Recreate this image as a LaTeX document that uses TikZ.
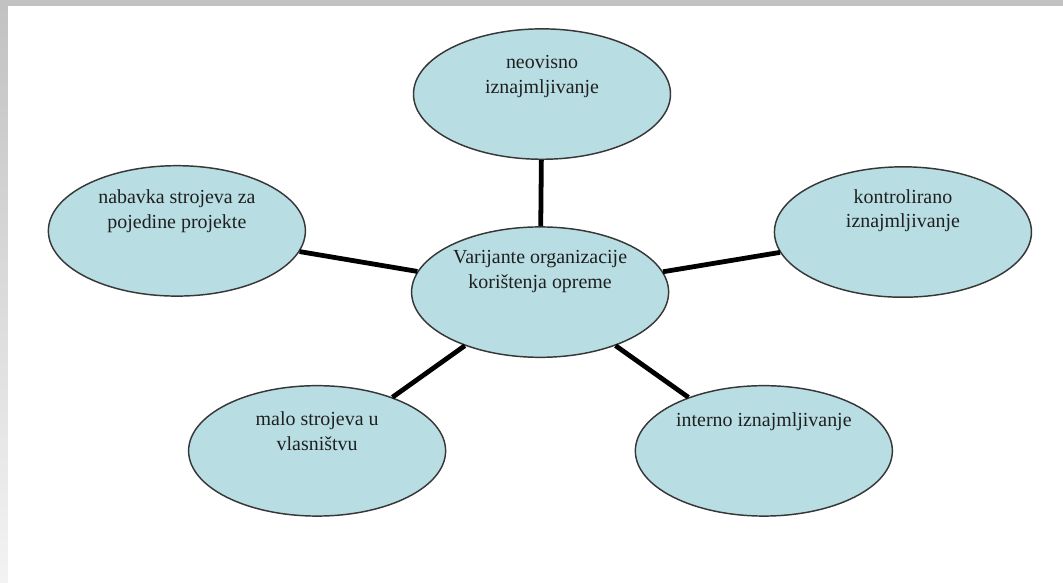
\documentclass[tikz,border=0pt]{standalone}
\usepackage{fontspec}
\setmainfont{Liberation Serif}
\usetikzlibrary{calc,shapes.geometric}

\definecolor{bubblefill}{RGB}{184,222,228}
\definecolor{bubbleline}{RGB}{55,55,55}
\definecolor{framegray}{RGB}{194,194,194}
\definecolor{framelight}{RGB}{243,243,243}

\begin{document}
\begin{tikzpicture}[
  bubble/.style={ellipse, draw=bubbleline, line width=1.1pt, fill=bubblefill,
    minimum width=6.8cm, minimum height=3.45cm, inner sep=0pt},
  bubbletext/.style={align=center, text=black!88,
    font=\fontsize{15}{18.5}\selectfont},
  spoke/.style={line width=3.6pt, black}
]
  \useasboundingbox (0,0) rectangle (28.125,15.399);
  \fill[white] (0,0) rectangle (28.125,15.399);
  % grey frame, top and left
  \fill[framegray] (0,15.24) rectangle (28.125,15.399);
  \shade[top color=framegray, bottom color=framelight] (0,0) rectangle (0.21,15.24);

  \node[bubble] at (14.29, 7.67) (hub) {};
  \node[bubble] at (14.34,12.91) (neo) {};
  \node[bubble] at ( 4.68, 9.29) (nab) {};
  \node[bubble] at (23.89, 9.26) (kon) {};
  \node[bubble] at (20.21, 3.47) (int) {};
  \node[bubble] at ( 8.39, 3.47) (malo) {};

  \draw[spoke] (hub) -- (neo);
  \draw[spoke] (hub) -- (nab);
  \draw[spoke] (hub) -- (kon);
  \draw[spoke] (hub) -- (int);
  \draw[spoke] (hub) -- (malo);

  \node[bubbletext] at ($(hub)+(0,0.54)$) (hubT) {Varijante organizacije\\korištenja opreme};
  \node[bubbletext] at ($(neo)+(0,0.46)$) (neoT) {neovisno\\iznajmljivanje};
  \node[bubbletext] at ($(nab)+(0,0.52)$) (nabT) {nabavka strojeva za\\pojedine projekte};
  \node[bubbletext] at ($(kon)+(0,0.56)$) (konT) {kontrolirano\\iznajmljivanje};
  \node[bubbletext] at ($(int)+(0,0.77)$) (intT) {interno iznajmljivanje};
  \node[bubbletext] at ($(malo)+(0,0.52)$) (maloT) {malo strojeva u\\vlasništvu};
\end{tikzpicture}
\end{document}
